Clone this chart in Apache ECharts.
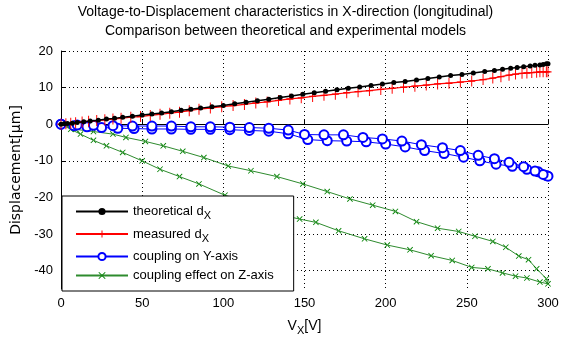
<!DOCTYPE html>
<html>
<head>
<meta charset="utf-8">
<script src="https://cdn.jsdelivr.net/npm/echarts@6/dist/echarts.min.js"></script>
<style>
  html, body { margin: 0; padding: 0; background: #fff; }
  #chart { width: 571px; height: 341px; }
</style>
</head>
<body>
<div id="chart"></div>
<script>
// values
var titleText = 'Voltage-to-Displacement characteristics in X-direction (longitudinal)\nComparison between theoretical and experimental models'
var xTicks = [0, 50, 100, 150, 200, 250, 300]
var yTicks = [-40, -30, -20, -10, 0, 10, 20]

var theoV = [0, 2, 4, 7, 10, 14, 18, 23, 28, 33, 38, 44, 50, 56, 62, 68, 74, 80, 86, 93, 100, 107, 114, 121, 128, 135, 142, 149, 156, 163, 170, 177, 184, 191, 198, 205, 212, 219, 226, 233, 240, 247, 254, 261, 267, 272, 277, 281, 285, 289, 292, 295, 297, 299, 300]
var theoD = [0, 0.1, 0.2, 0.3, 0.5, 0.7, 0.9, 1.1, 1.4, 1.6, 1.9, 2.2, 2.5, 2.8, 3.1, 3.4, 3.8, 4.1, 4.4, 4.8, 5.1, 5.6, 6.0, 6.4, 6.8, 7.3, 7.7, 8.2, 8.6, 9.0, 9.4, 9.8, 10.2, 10.6, 11.0, 11.4, 11.7, 12.1, 12.5, 12.9, 13.3, 13.6, 14.0, 14.4, 14.7, 15.0, 15.3, 15.5, 15.7, 15.9, 16.1, 16.2, 16.3, 16.5, 16.5]

var measV = [0, 3, 6, 9, 13, 17, 22, 27, 32, 37, 43, 49, 55, 61, 67, 73, 79, 85, 92, 99, 106, 113, 120, 127, 134, 141, 148, 155, 162, 169, 176, 183, 190, 197, 204, 211, 218, 225, 232, 239, 246, 253, 260, 266, 271, 276, 280, 284, 287, 290, 293, 295, 297, 299, 300]
var measD = [0, 0.1, 0.3, 0.4, 0.6, 0.8, 1.0, 1.2, 1.4, 1.6, 1.9, 2.1, 2.4, 2.7, 3.0, 3.3, 3.7, 4.1, 4.4, 4.8, 5.1, 5.4, 5.8, 6.1, 6.5, 6.9, 7.2, 7.6, 7.9, 8.2, 8.6, 8.9, 9.2, 9.5, 9.8, 10.1, 10.4, 10.7, 11.0, 11.2, 11.5, 11.8, 12.2, 12.6, 13.0, 13.4, 13.7, 13.9, 14.0, 14.1, 14.2, 14.3, 14.3, 14.3, 14.3]

// coupling on Y: rising sweep then falling sweep
var yCoupV = [0, 8, 16, 25, 35, 45, 56, 68, 80, 92, 104, 116, 128, 140, 152, 164, 176, 188, 200, 212, 224, 236, 248, 258, 268, 278, 287, 294, 299, 300,
  297, 292, 285, 276, 267, 257, 246, 235, 222, 210, 198, 186, 174, 162, 150, 140, 128, 116, 104, 92, 80, 68, 56, 44, 32, 20, 10, 0]
var yCoupD = [0, -0.4, -0.7, -0.9, -1.1, -1.2, -1.3, -1.3, -1.4, -1.4, -1.5, -1.7, -1.9, -2.6, -4.2, -4.5, -4.6, -4.8, -5.4, -6.2, -7.2, -8.0, -9.0, -10.0, -10.9, -11.5, -12.3, -13.0, -14.0, -14.2,
  -13.7, -12.8, -11.6, -10.4, -9.4, -8.5, -7.2, -6.4, -5.6, -4.6, -4.0, -3.6, -2.9, -2.9, -2.8, -1.6, -1.1, -0.9, -0.8, -0.7, -0.7, -0.5, -0.5, -0.5, -0.4, -0.3, -0.2, 0]

// coupling on Z: rising sweep then falling sweep
var zCoupV = [0, 6, 12, 20, 28, 38, 50, 61, 73, 85, 101, 113, 125, 138, 147, 157, 171, 187, 201, 215, 228, 241, 253, 263, 272, 280, 287, 295, 300,
  299, 293, 288, 282, 274, 266, 255, 245, 232, 219, 206, 192, 178, 164, 149, 133, 117, 103, 88, 75, 63, 52, 40, 32, 20, 9, 0]
var zCoupD = [0, -1.4, -2.7, -4.4, -5.9, -7.7, -10.0, -12.3, -14.3, -16.3, -19.4, -21.0, -22.5, -25.0, -25.9, -26.8, -29.1, -31.3, -33.0, -34.3, -35.9, -37.2, -39.1, -39.5, -40.6, -41.5, -42.0, -43.1, -43.6,
  -42.2, -39.5, -37.0, -36.0, -33.6, -32.0, -30.6, -29.3, -28.4, -26.6, -23.8, -22.1, -20.4, -18.4, -16.3, -14.3, -12.7, -11.4, -9.1, -7.4, -5.9, -4.7, -3.6, -2.7, -2.0, -1.4, 0]

function pairs (xs, ys) {
  return xs.map(function (x, i) { return [x, ys[i]] })
}

var FONT = 'Liberation Sans'
var plusPath = 'path://M-0.14,-1H0.14V1H-0.14Z M-1,-0.12H1V0.12H-1Z'
var crossPath = 'path://M-1,-0.8L-0.8,-1L1,0.8L0.8,1Z M1,-0.8L0.8,-1L-1,0.8L-0.8,1Z'
var subStyle = { fontFamily: FONT, fontSize: 11, color: '#000', padding: [9, 0, 0, 0] }
var gridLine = { show: true, lineStyle: { color: '#000', type: [1, 3], width: 1 } }

var chart = echarts.init(document.getElementById('chart'))

var option = {
  animation: false,
  backgroundColor: '#fff',
  textStyle: { fontFamily: FONT },
  title: {
    text: titleText,
    left: 'center',
    top: 3,
    padding: 0,
    textStyle: { fontFamily: FONT, fontSize: 14, fontWeight: 'normal', color: '#000', lineHeight: 19 }
  },
  grid: { left: 61, right: 23, top: 51, bottom: 51 },
  legend: {
    orient: 'vertical',
    left: 62,
    top: 196,
    padding: [9, 20, 9, 13],
    itemGap: 6,
    itemWidth: 52,
    itemHeight: 9,
    backgroundColor: '#fff',
    borderColor: '#000',
    borderWidth: 1,
    borderRadius: 0,
    data: ['theoretical d_X', 'measured d_X', 'coupling on Y-axis', 'coupling effect on Z-axis'],
    formatter: function (name) {
      var k = name.indexOf('_')
      if (k < 0) return name
      return name.slice(0, k) + '{sub|' + name.slice(k + 1) + '}'
    },
    textStyle: { fontFamily: FONT, fontSize: 13, color: '#000', rich: { sub: subStyle } }
  },
  xAxis: {
    type: 'value',
    min: 0,
    max: 300,
    interval: 50,
    name: 'V{sub|X}[V]',
    nameLocation: 'middle',
    nameGap: 27,
    nameTextStyle: { fontFamily: FONT, fontSize: 14, color: '#000', rich: { sub: subStyle } },
    axisLine: { lineStyle: { color: '#000', width: 1 } },
    axisTick: { inside: true, length: 5, lineStyle: { color: '#000' }, customValues: xTicks },
    axisLabel: { fontFamily: FONT, fontSize: 13, color: '#000', margin: 8, customValues: xTicks },
    splitLine: gridLine
  },
  yAxis: {
    type: 'value',
    min: -45,
    max: 20,
    name: 'Displacement[\u03bcm]',
    nameLocation: 'middle',
    nameGap: 35,
    nameTextStyle: { fontFamily: 'DejaVu Sans', fontSize: 14, color: '#000' },
    axisLine: { lineStyle: { color: '#000', width: 1 } },
    axisTick: { inside: true, length: 5, lineStyle: { color: '#000' }, customValues: yTicks },
    axisLabel: { fontFamily: FONT, fontSize: 13, color: '#000', margin: 8, customValues: yTicks },
    splitLine: gridLine
  },
  series: [
    {
      name: 'theoretical d_X',
      type: 'line',
      data: pairs(theoV, theoD),
      symbol: 'circle',
      symbolSize: 5,
      showAllSymbol: true,
      lineStyle: { color: '#000', width: 1.5 },
      itemStyle: { color: '#000' },
      z: 5
    },
    {
      name: 'measured d_X',
      type: 'line',
      data: pairs(measV, measD),
      symbol: plusPath,
      symbolSize: [7, 11],
      showAllSymbol: true,
      lineStyle: { color: '#ff0000', width: 1.2 },
      itemStyle: { color: '#ff0000' },
      z: 4
    },
    {
      name: 'coupling on Y-axis',
      type: 'line',
      data: pairs(yCoupV, yCoupD),
      symbol: 'emptyCircle',
      symbolSize: 9,
      showAllSymbol: true,
      lineStyle: { color: '#0000ff', width: 1 },
      itemStyle: { color: '#0000ff', borderWidth: 1 },
      z: 3
    },
    {
      name: 'coupling effect on Z-axis',
      type: 'line',
      data: pairs(zCoupV, zCoupD),
      symbol: crossPath,
      symbolSize: 6,
      showAllSymbol: true,
      lineStyle: { color: '#2e8b2e', width: 1 },
      itemStyle: { color: '#008000' },
      z: 2
    }
  ]
}

chart.setOption(option)
</script>
</body>
</html>
